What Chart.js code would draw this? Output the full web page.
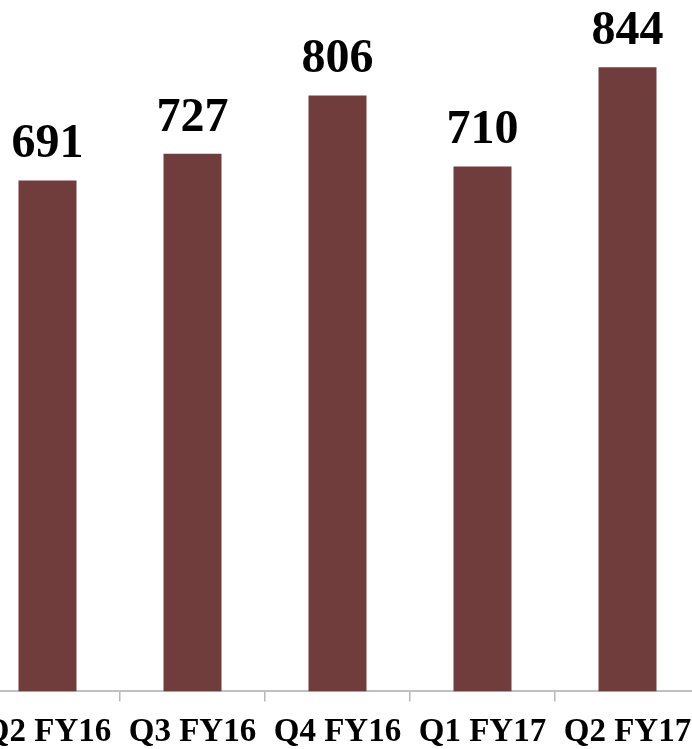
<!DOCTYPE html>
<html>
<head>
<meta charset="utf-8">
<script src="https://cdn.jsdelivr.net/npm/chart.js@4"></script>
<style>
  html, body { margin: 0; padding: 0; background: #ffffff; overflow: hidden; width: 692px; height: 749px; }
  #wrap { position: absolute; left: -27px; top: 0; width: 729px; height: 763px; }
</style>
</head>
<body>
<div id="wrap"><canvas id="c"></canvas></div>
<script>
const categories = ["Q2 FY16", "Q3 FY16", "Q4 FY16", "Q1 FY17", "Q2 FY17"];
const values = [691, 727, 806, 710, 844];

const valueLabels = {
  id: 'valueLabels',
  afterDatasetsDraw(chart) {
    const ctx = chart.ctx;
    const meta = chart.getDatasetMeta(0);
    ctx.save();
    ctx.fillStyle = '#000000';
    ctx.font = 'bold 48px "Liberation Serif", serif';
    ctx.textAlign = 'center';
    ctx.textBaseline = 'alphabetic';
    meta.data.forEach((bar, i) => {
      ctx.fillText(String(values[i]), bar.x, bar.y - 23);
    });
    ctx.restore();
  }
};

new Chart(document.getElementById('c'), {
  type: 'bar',
  data: {
    labels: categories,
    datasets: [{
      data: values,
      backgroundColor: '#703d3c',
      borderWidth: 0,
      categoryPercentage: 1.0,
      barPercentage: 0.4
    }]
  },
  options: {
    responsive: true,
    maintainAspectRatio: false,
    animation: false,
    layout: { padding: { top: 0, left: 0, right: 0, bottom: 0 } },
    plugins: { legend: { display: false }, tooltip: { enabled: false } },
    scales: {
      x: {
        grid: { display: true, drawOnChartArea: false, drawTicks: true, tickLength: 10, color: '#b8b8b8', lineWidth: 1.5, offset: true },
        border: { display: true, color: '#c0c0c0', width: 2 },
        ticks: {
          color: '#000000',
          padding: 11,
          maxRotation: 0,
          autoSkip: false,
          font: { family: '"Liberation Serif", serif', size: 33, weight: 'bold' }
        }
      },
      y: {
        display: false,
        min: 0,
        max: 935
      }
    }
  },
  plugins: [valueLabels]
});
</script>
</body>
</html>
